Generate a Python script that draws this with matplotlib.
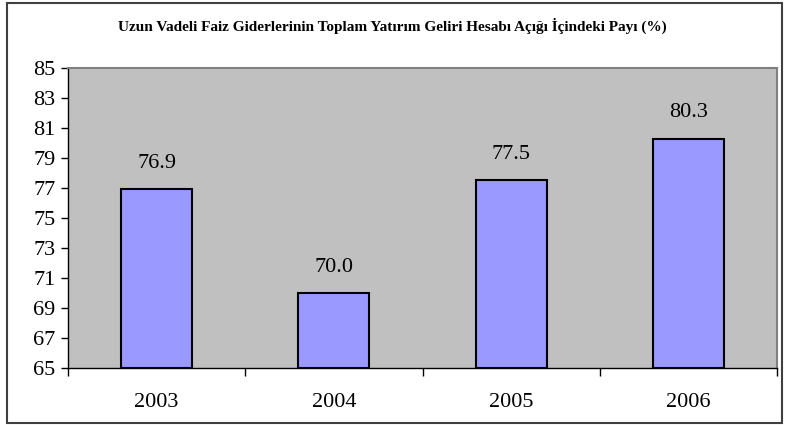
import matplotlib
matplotlib.use("Agg")
import matplotlib.pyplot as plt
from matplotlib.patches import Rectangle

years = ["2003", "2004", "2005", "2006"]
shares = [76.9, 70.0, 77.5, 80.3]
yticks = list(range(65, 86, 2))
title = "Uzun Vadeli Faiz Giderlerinin Toplam Yatırım Geliri Hesabı Açığı İçindeki Payı (%)"

plt.rcParams["font.family"] = ["Liberation Serif", "DejaVu Serif"]

fig = plt.figure(figsize=(7.85, 4.25), dpi=100)
ax = fig.add_axes([68 / 785, 1 - 368 / 425, (777 - 68) / 785, 300 / 425])

x = list(range(len(years)))
ax.bar(x, [v - 65 for v in shares], bottom=65, width=0.4,
       color="#9999FF", edgecolor="black", linewidth=1.5, zorder=3)
for xi, v in zip(x, shares):
    ax.text(xi, v + 1.1, f"{v:.1f}", ha="center", va="bottom", fontsize=16)

ax.set_facecolor("#C0C0C0")
ax.set_xlim(-0.5, len(years) - 0.5)
ax.set_ylim(65, 85)
ax.set_yticks(yticks)
ax.tick_params(axis="y", labelsize=16, length=5, width=1, pad=4)
ax.set_xticks([i - 0.5 for i in range(len(years) + 1)])
ax.set_xticklabels([])
ax.set_xticks(x, minor=True)
ax.set_xticklabels(years, minor=True, fontsize=16)
ax.tick_params(axis="x", which="major", length=6, width=1, direction="out")
ax.tick_params(axis="x", which="minor", length=0, pad=18)
for side in ["top", "right"]:
    ax.spines[side].set_color("#808080")
    ax.spines[side].set_linewidth(1.5)
for side in ["left", "bottom"]:
    ax.spines[side].set_color("black")
    ax.spines[side].set_linewidth(1)

fig.text(0.5, 1 - 26 / 425, title, ha="center", va="center",
         fontsize=11, fontweight="bold")

fig.patches.append(Rectangle((7 / 785, 2 / 425), 775 / 785, 420 / 425,
                             transform=fig.transFigure, fill=False,
                             edgecolor="#404040", linewidth=1.5))

fig.savefig("out.png", dpi=100)
